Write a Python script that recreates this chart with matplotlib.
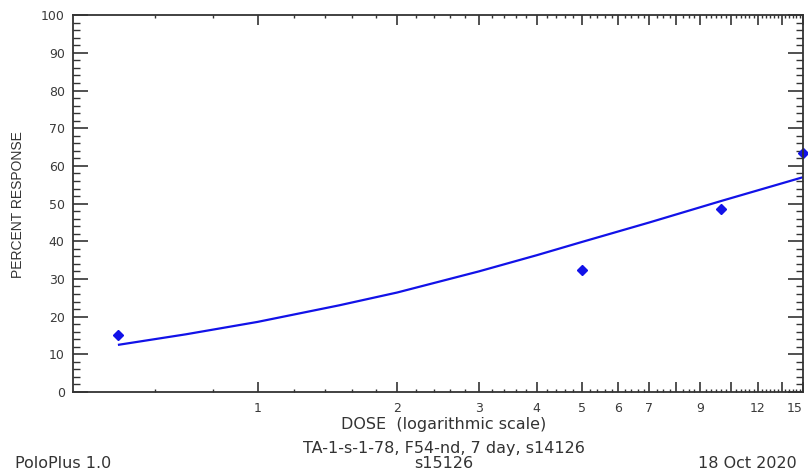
import numpy as np
import matplotlib.pyplot as plt
from matplotlib.ticker import FixedLocator, NullFormatter

# observed data (dose, percent response)
dose_obs = [0.5, 5, 10, 15]
resp_obs = [15.0, 32.5, 48.5, 63.5]

# fitted probit line
dose_fit = [0.5, 0.7, 1, 1.5, 2, 3, 4, 5, 7, 10, 15]
resp_fit = [12.5, 15.3, 18.6, 23.0, 26.4, 32.0, 36.3, 39.8, 45.0, 50.7, 57.0]

major_x = [1, 2, 3, 4, 5, 6, 7, 8, 9, 10.5, 12, 13.5, 15]
labeled_x = [1, 2, 3, 4, 5, 6, 7, 9, 12, 15]

plt.rcParams["font.family"] = ["DejaVu Sans"]
fig = plt.figure(figsize=(8.08, 4.74), dpi=100)
ax = fig.add_axes([0.0903, 0.173, 0.9035, 0.795])

blue = "#1212e8"
ax.plot(dose_fit, resp_fit, color=blue, lw=1.6, solid_capstyle="butt")
ax.plot(dose_obs, resp_obs, ls="none", marker="D", ms=5, color=blue,
        clip_on=False)

ax.set_xscale("log")
ax.set_xlim(0.4, 15)
ax.set_ylim(0, 100)

# x ticks
ax.xaxis.set_major_locator(FixedLocator(major_x))
ax.set_xticklabels([str(v) if v in labeled_x else "" for v in major_x])
minor_x = list(np.arange(0.6, 1.0, 0.2)) + list(np.arange(1.2, 7.0, 0.2)) \
    + list(np.arange(7.25, 15, 0.25))
minor_x = [m for m in minor_x if all(abs(m - M) > 1e-6 for M in major_x)]
ax.xaxis.set_minor_locator(FixedLocator(minor_x))
ax.xaxis.set_minor_formatter(NullFormatter())

# y ticks
ax.set_yticks(np.arange(0, 101, 10))
ax.yaxis.set_minor_locator(FixedLocator(np.arange(0, 101, 2)))

grey = "#333333"
for s in ax.spines.values():
    s.set_color(grey)
    s.set_linewidth(1.3)

ax.tick_params(axis="x", which="major", direction="in", length=7, width=1.2,
               top=True, bottom=True, color=grey, labelsize=9,
               labelcolor="#3a3a3a", pad=7)
ax.tick_params(axis="x", which="minor", direction="in", length=2.5, width=1.0,
               top=True, bottom=True, color=grey)
ax.tick_params(axis="y", which="major", direction="in", length=11, width=1.2,
               left=True, right=True, color=grey, labelsize=9,
               labelcolor="#3a3a3a", pad=6)
ax.tick_params(axis="y", which="minor", direction="in", length=5, width=1.0,
               left=True, right=True, color=grey)
# the reference cuts the last "15" at the right edge; keep it just inside
ax.get_xticklabels()[-1].set_horizontalalignment("right")

# texts
txt = "#333333"
fs = 11.5
fig.text(18 / 808, 1 - 205 / 474, "PERCENT RESPONSE", rotation=90,
         ha="center", va="center", fontsize=10, color=txt,
         family="Liberation Sans")
fig.text(444 / 808, 1 - 425 / 474, "DOSE  (logarithmic scale)",
         ha="center", va="center", fontsize=fs, color=txt)
fig.text(444 / 808, 1 - 448 / 474, "TA-1-s-1-78, F54-nd, 7 day, s14126",
         ha="center", va="center", fontsize=fs, color=txt)
fig.text(444 / 808, 1 - 464 / 474, "s15126",
         ha="center", va="center", fontsize=fs, color=txt)
fig.text(15 / 808, 1 - 464 / 474, "PoloPlus 1.0",
         ha="left", va="center", fontsize=fs, color=txt)
fig.text(797 / 808, 1 - 464 / 474, "18 Oct 2020",
         ha="right", va="center", fontsize=fs, color=txt)

fig.savefig("out.png", dpi=100)
